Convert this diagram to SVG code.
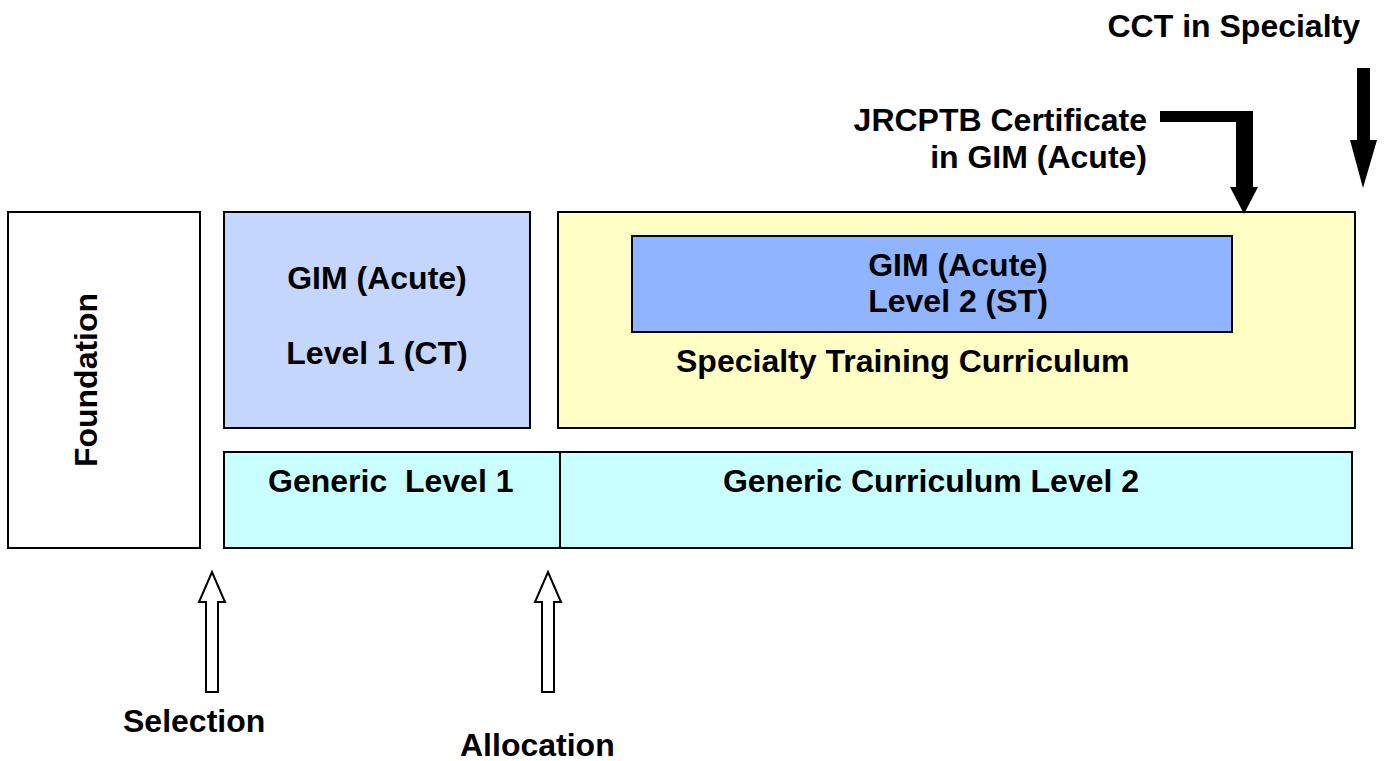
<svg xmlns="http://www.w3.org/2000/svg" width="1388" height="761" viewBox="0 0 1388 761">
<style>
.t{font-family:"Liberation Sans",Arial,sans-serif;font-weight:bold;font-size:32px;fill:#000}
.box{stroke:#000;stroke-width:2}
.hollow{fill:#fff;stroke:#000;stroke-width:2}
.solid{fill:#000;stroke:none}
</style>
<rect width="1388" height="761" fill="#fff"/>
<g id="foundation">
<rect class="box" x="8" y="212" width="192" height="336" fill="#fff"/>
<text class="t" transform="translate(97,380) rotate(-90)" text-anchor="middle">Foundation</text>
</g>
<g id="gim-level1">
<rect class="box" x="224" y="212" width="306" height="216" fill="#C5D6FD"/>
<text class="t" x="377" y="289" text-anchor="middle">GIM (Acute)</text>
<text class="t" x="377" y="364" text-anchor="middle">Level 1 (CT)</text>
</g>
<g id="specialty">
<rect class="box" x="558" y="212" width="797" height="216" fill="#FFFFC5"/>
<text class="t" x="676" y="372">Specialty Training Curriculum</text>
</g>
<g id="gim-level2">
<rect class="box" x="632" y="236" width="600" height="96" fill="#90B4FE"/>
<text class="t" x="958" y="276" text-anchor="middle">GIM (Acute)</text>
<text class="t" x="958" y="312" text-anchor="middle">Level 2 (ST)</text>
</g>
<g id="generic1">
<rect class="box" x="224" y="452" width="336" height="96" fill="#C9FFFF"/>
<text class="t" x="268" y="492" xml:space="preserve">Generic  Level 1</text>
</g>
<g id="generic2">
<rect class="box" x="560" y="452" width="792" height="96" fill="#C9FFFF"/>
<text class="t" x="931" y="492" text-anchor="middle">Generic Curriculum Level 2</text>
</g>
<g id="connectors">
<path class="hollow" d="M206,692 L206,602 L199,602 L212,572 L225,602 L218,602 L218,692 Z"/>
<path class="hollow" d="M542,692 L542,602 L535,602 L548,572 L561,602 L554,602 L554,692 Z"/>
<path class="solid" d="M1160,111 L1253,111 L1253,187 L1258,187 L1244,214 L1230,187 L1236,187 L1236,122 L1160,122 Z"/>
<path class="solid" d="M1357,68 L1370,68 L1370,140 L1377,140 L1363,188 L1350,140 L1357,140 Z"/>
</g>
<g id="labels">
<text class="t" x="1360" y="37" text-anchor="end">CCT in Specialty</text>
<text class="t" x="1147" y="131" text-anchor="end">JRCPTB Certificate</text>
<text class="t" x="1147" y="168" text-anchor="end">in GIM (Acute)</text>
<text class="t" x="123" y="732">Selection</text>
<text class="t" x="460" y="756">Allocation</text>
</g>
</svg>
